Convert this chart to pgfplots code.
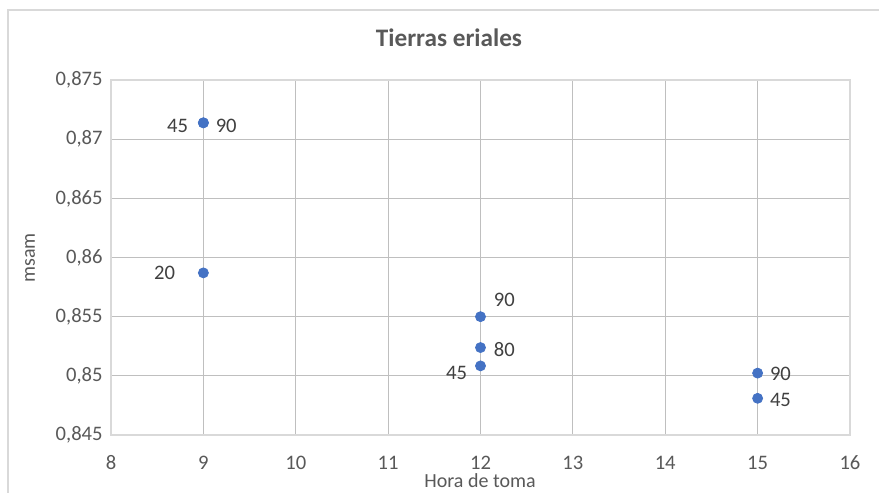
\documentclass[border=0pt]{standalone}
\usepackage{pgfplots}
\pgfplotsset{compat=1.18}
\usepackage{fontspec}
\setmainfont{Carlito}
\definecolor{pt}{RGB}{68,114,196}
\definecolor{tgray}{RGB}{89,89,89}
\definecolor{lgray}{RGB}{64,64,64}
\definecolor{grid}{RGB}{217,217,217}
\newcommand{\tfont}{\fontsize{10.3pt}{12pt}\selectfont}
\begin{document}
\begin{tikzpicture}
\useasboundingbox (0,0) rectangle (439.5pt,246.5pt);
\fill[white] (0,0) rectangle (439.5pt,246.5pt);
\draw[grid, line width=0.6pt] (4pt,-2pt) -- (4pt,241.5pt) -- (442pt,241.5pt);
\begin{axis}[
  at={(55.5pt,29pt)}, anchor=south west,
  scale only axis, width=369.5pt, height=177.5pt,
  xmin=8, xmax=16, ymin=0.845, ymax=0.875,
  xtick={8,9,...,16}, ytick={0.845,0.85,0.855,0.86,0.865,0.87,0.875},
  grid=major, major grid style={grid, line width=0.6pt},
  axis line style={grid, line width=0.6pt},
  major tick length=0pt,
  /pgf/number format/assume math mode=true,
  /pgf/number format/use comma,
  yticklabel style={/pgf/number format/fixed, /pgf/number format/precision=3, font=\tfont, text=tgray, inner sep=0pt, anchor=east, xshift=-4pt},
  xticklabel style={font=\tfont, text=tgray, anchor=base, yshift=-17.3pt},
  scaled y ticks=false,
  every axis plot/.append style={only marks, mark=*, mark size=2.5pt, mark options={fill=pt, draw=pt}, nodes near coords, point meta=explicit symbolic},
  nodes near coords style={font=\tfont, text=lgray, inner sep=0pt},
  clip=false,
]
\addplot[every node near coord/.append style={anchor=east, xshift=-7.5pt, yshift=-1.5pt}] coordinates {(9,0.87138) [45]};
\addplot[every node near coord/.append style={anchor=west, xshift=6pt, yshift=-1.5pt}] coordinates {(9,0.87138) [90]};
\addplot[every node near coord/.append style={anchor=east, xshift=-14pt, yshift=0pt}] coordinates {(9,0.8587) [20]};
\addplot[every node near coord/.append style={anchor=west, xshift=6.5pt, yshift=8.5pt}] coordinates {(12,0.8550) [90]};
\addplot[every node near coord/.append style={anchor=west, xshift=6.5pt, yshift=-1pt}] coordinates {(12,0.85239) [80]};
\addplot[every node near coord/.append style={anchor=east, xshift=-6.5pt, yshift=-3.5pt}] coordinates {(12,0.85084) [45]};
\addplot[every node near coord/.append style={anchor=west, xshift=6pt, yshift=-0.5pt}] coordinates {(15,0.85023) [90]};
\addplot[every node near coord/.append style={anchor=west, xshift=6pt, yshift=-1pt}] coordinates {(15,0.8481) [45]};
\end{axis}
\node[font=\fontsize{12.6pt}{15pt}\selectfont\bfseries, text=tgray, inner sep=0pt] at (224.5pt,227.5pt) {Tierras eriales};
\node[font=\fontsize{10pt}{12pt}\selectfont, text=tgray, inner sep=0pt, rotate=90] at (15pt,117.5pt) {msam};
\node[font=\fontsize{10pt}{12pt}\selectfont, text=tgray, inner sep=0pt, anchor=base] at (240pt,2.6pt) {Hora de toma};
\end{tikzpicture}
\end{document}
